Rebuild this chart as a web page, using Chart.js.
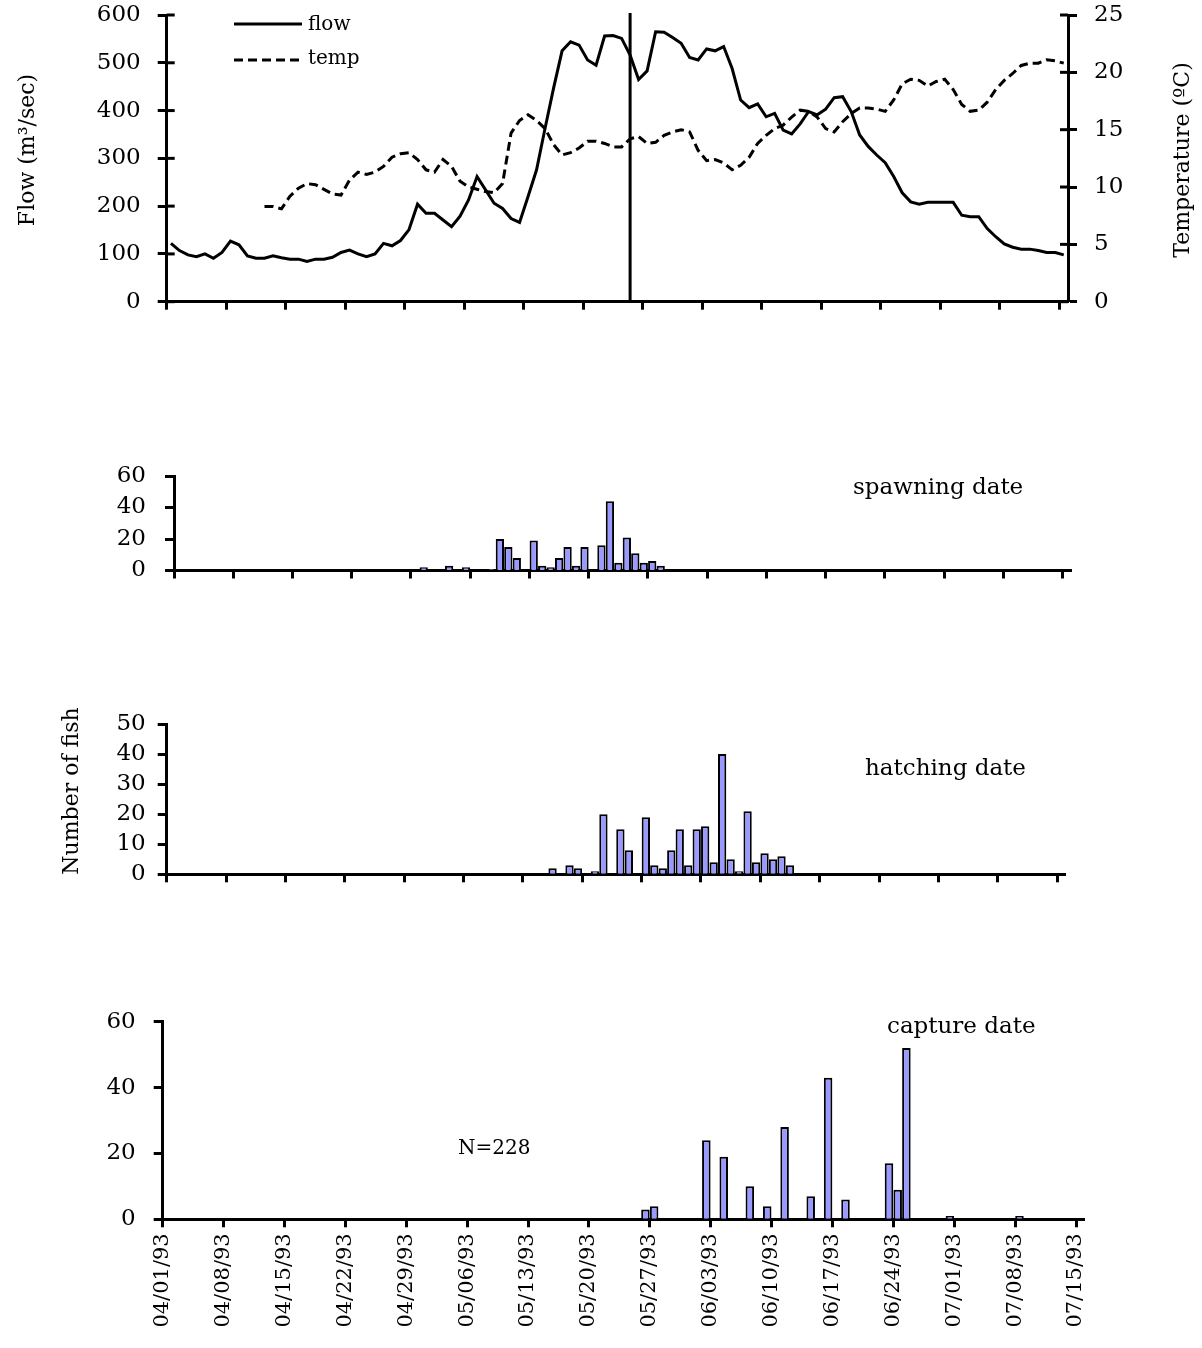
<!DOCTYPE html>
<html>
<head>
<meta charset="utf-8">
<script src="https://cdn.jsdelivr.net/npm/chart.js@4/dist/chart.umd.min.js"></script>
<style>
  body { margin: 0; background: #fff; }
  #wrap { position: relative; width: 1202px; height: 1348px; background: #fff; }
  canvas { position: absolute; left: 0; }
</style>
</head>
<body>
<div id="wrap">
  <canvas id="flowChart" width="1202" height="330" style="top:0px"></canvas>
  <canvas id="spawnChart" width="1202" height="150" style="top:440px"></canvas>
  <canvas id="hatchChart" width="1202" height="200" style="top:690px"></canvas>
  <canvas id="captureChart" width="1202" height="358" style="top:990px"></canvas>
</div>
<script>
// days 04/01/93 .. 07/15/93
const nDays = 106
const weekLabels = ['04/01/93', '04/08/93', '04/15/93', '04/22/93', '04/29/93', '05/06/93', '05/13/93', '05/20/93',
  '05/27/93', '06/03/93', '06/10/93', '06/17/93', '06/24/93', '07/01/93', '07/08/93', '07/15/93']

// daily flow (m3/sec), starting 04/01/93
const flow = [
  122, 107, 98, 94, 100, 91, 103, 127, 119, 96,
  91, 91, 96, 92, 89, 89, 84, 89, 89, 93,
  103, 108, 100, 94, 100, 122, 117, 128, 151, 204,
  185, 185, 171, 157, 179, 213, 262, 234, 206, 195,
  174, 166, 220, 276, 363, 447, 525, 544, 537, 506,
  495, 556, 557, 551, 516, 465, 483, 565, 564, 553,
  541, 511, 506, 529, 525, 534, 488, 422, 406, 414,
  387, 394, 359, 351, 372, 398, 391, 403, 427, 429,
  398, 349, 325, 307, 291, 262, 228, 209, 204, 208,
  208, 208, 208, 181, 178, 178, 153, 136, 121, 114,
  110, 110, 107, 103, 103, 98
]

// daily temperature (C), record starts on day 11 (04/12/93)
const tempStartDay = 11
const temp = [
  8.3, 8.3, 8.1, 9.2, 9.9, 10.3, 10.2, 9.8, 9.4, 9.3,
  10.6, 11.3, 11.1, 11.3, 11.8, 12.6, 12.9, 13.0, 12.4, 11.5,
  11.3, 12.4, 11.8, 10.5, 10.0, 9.8, 9.6, 9.5, 10.3, 14.7,
  15.8, 16.3, 15.8, 15.1, 13.7, 12.8, 13.0, 13.4, 14.0, 14.0,
  13.8, 13.5, 13.5, 14.2, 14.4, 13.8, 13.9, 14.5, 14.8, 15.0,
  14.8, 13.2, 12.3, 12.4, 12.1, 11.5, 11.9, 12.6, 13.8, 14.5,
  15.1, 15.4, 16.1, 16.7, 16.6, 16.1, 15.1, 14.8, 15.7, 16.4,
  16.9, 16.9, 16.8, 16.6, 17.6, 19.0, 19.4, 19.3, 18.8, 19.2,
  19.4, 18.5, 17.2, 16.6, 16.7, 17.4, 18.5, 19.3, 19.9, 20.6,
  20.8, 20.8, 21.1, 21.0, 20.8
]

const markerDay = 54 // 05/25/93

// fish counts, day index = days since 04/01/93
const spawnDays = [29, 32, 34, 37, 38, 39, 40, 42, 43, 44, 45, 46, 47, 48, 50, 51, 52, 53, 54, 55, 56, 57]
const spawnCounts = [2, 3, 2, 1, 20, 15, 8, 19, 3, 2, 8, 15, 3, 15, 16, 44, 5, 21, 11, 5, 6, 3]

const hatchDays = [45, 47, 48, 50, 51, 53, 54, 56, 57, 58, 59, 60, 61, 62, 63, 64, 65, 66, 67, 68, 69, 70, 71, 72, 73]
const hatchCounts = [2, 3, 2, 1, 20, 15, 8, 19, 3, 2, 8, 15, 3, 15, 16, 4, 40, 5, 1, 21, 4, 7, 5, 6, 3]

const captureDays = [55, 56, 62, 64, 67, 69, 71, 74, 76, 78, 83, 84, 85, 90, 98]
const captureCounts = [3, 4, 24, 19, 10, 4, 28, 7, 43, 6, 17, 9, 52, 1, 1]

const FONT = 'DejaVu Serif'
const BAR_FILL = '#9999ff'

const days = []
for (let i = 0; i < nDays; i++) {
  const d = new Date(1993, 3, 1 + i)
  days.push(String(d.getMonth() + 1).padStart(2, '0') + '/' + String(d.getDate()).padStart(2, '0') + '/93')
}

const toDaily = (idx, counts) => {
  const out = new Array(nDays).fill(null)
  idx.forEach((d, i) => { out[d] = counts[i] })
  return out
}

const tempDaily = new Array(tempStartDay).fill(null).concat(temp)

// no extra room for half labels, plot area is set by padding + fixed axis sizes
const noPad = (s) => { s.paddingTop = 0; s.paddingBottom = 0; s.paddingLeft = 0; s.paddingRight = 0 }

const xAxis = (height, showLabels) => ({
  type: 'category',
  offset: true,
  grid: {
    offset: true,
    drawOnChartArea: false,
    tickLength: 8,
    tickWidth: 3,
    tickColor: (c) => (c.index % 7 === 0 ? '#000' : 'rgba(0,0,0,0)')
  },
  border: { color: '#000', width: 3 },
  ticks: {
    display: showLabels,
    autoSkip: false,
    minRotation: 90,
    maxRotation: 90,
    padding: 6,
    labelOffset: -4.35,
    color: '#000',
    font: { family: FONT, size: 21 },
    callback: (v, i) => (i % 7 === 0 ? weekLabels[i / 7] : '')
  },
  afterFit: (s) => { s.height = height; noPad(s) }
})

const yAxis = (pos, max, step, width, pad) => ({
  position: pos,
  min: 0,
  max: max,
  grid: { drawOnChartArea: false, tickLength: 9, tickWidth: 3, tickColor: '#000' },
  border: { color: '#000', width: 3 },
  ticks: { stepSize: step, autoSkip: false, padding: pad, color: '#000', font: { family: FONT, size: 23 } },
  afterFit: (s) => { s.width = width; noPad(s) }
})

// free text: titles, panel names
const textPlugin = (items) => ({
  id: 'texts',
  afterDraw(chart) {
    const ctx = chart.ctx
    items.forEach(t => {
      ctx.save()
      ctx.fillStyle = '#000'
      ctx.font = t.size + 'px "' + FONT + '"'
      ctx.textAlign = t.align || 'left'
      ctx.textBaseline = 'middle'
      ctx.translate(t.x, t.y)
      if (t.rot) ctx.rotate(t.rot)
      ctx.fillText(t.text, 0, 0)
      ctx.restore()
    })
  }
})

const flowExtras = {
  id: 'flowExtras',
  afterDatasetsDraw(chart) {
    const ctx = chart.ctx
    const area = chart.chartArea
    const x = chart.scales.x.getPixelForValue(markerDay)
    ctx.save()
    ctx.strokeStyle = '#000'
    ctx.lineWidth = 3
    ctx.beginPath()
    ctx.moveTo(x, area.top - 2)
    ctx.lineTo(x, area.bottom)
    ctx.stroke()

    // inner halves of the crossing y ticks
    const yl = chart.scales.y
    const yr = chart.scales.y1
    yl.ticks.forEach(t => {
      const p = yl.getPixelForValue(t.value)
      ctx.beginPath(); ctx.moveTo(area.left, p); ctx.lineTo(area.left + 8, p); ctx.stroke()
    })
    yr.ticks.forEach(t => {
      const p = yr.getPixelForValue(t.value)
      ctx.beginPath(); ctx.moveTo(area.right, p); ctx.lineTo(area.right - 8, p); ctx.stroke()
    })

    // legend
    ctx.lineWidth = 3
    ctx.beginPath(); ctx.moveTo(234, 24); ctx.lineTo(302, 24); ctx.stroke()
    ctx.setLineDash([9, 5])
    ctx.beginPath(); ctx.moveTo(234, 60); ctx.lineTo(302, 60); ctx.stroke()
    ctx.setLineDash([])
    ctx.fillStyle = '#000'
    ctx.font = '20px "' + FONT + '"'
    ctx.textBaseline = 'middle'
    ctx.fillText('flow', 308, 25)
    ctx.fillText('temp', 308, 59)
    ctx.restore()
  }
}

new Chart(document.getElementById('flowChart'), {
  type: 'line',
  data: {
    labels: days,
    datasets: [
      { label: 'flow', data: flow, yAxisID: 'y', borderColor: '#000', borderWidth: 3, pointRadius: 0, tension: 0, fill: false },
      { label: 'temp', data: tempDaily, yAxisID: 'y1', borderColor: '#000', borderWidth: 3, borderDash: [9, 5], pointRadius: 0, tension: 0, fill: false }
    ]
  },
  options: {
    responsive: false,
    animation: false,
    layout: { padding: { top: 15, left: 0, right: 0, bottom: 0 } },
    plugins: { legend: { display: false }, tooltip: { enabled: false } },
    scales: {
      x: xAxis(28.3, false),
      y: yAxis('left', 600, 100, 166.7, 17),
      y1: yAxis('right', 25, 5, 134, 17)
    }
  },
  plugins: [flowExtras, textPlugin([
    { text: 'Flow (m\u00b3/sec)', x: 28, y: 150, rot: -Math.PI / 2, align: 'center', size: 22 },
    { text: 'Temperature (\u00baC)', x: 1183, y: 160, rot: -Math.PI / 2, align: 'center', size: 22 }
  ])]
})

const barChart = (id, counts, yMax, yStep, geo, texts) => new Chart(document.getElementById(id), {
  type: 'bar',
  data: {
    labels: days,
    datasets: [{
      data: counts,
      backgroundColor: BAR_FILL,
      borderColor: '#000',
      borderWidth: 2,
      barPercentage: 0.98,
      categoryPercentage: 1
    }]
  },
  options: {
    responsive: false,
    animation: false,
    layout: { padding: { top: geo.top, left: 0, right: geo.right, bottom: 0 } },
    plugins: { legend: { display: false }, tooltip: { enabled: false } },
    scales: {
      x: xAxis(geo.xh, geo.labels),
      y: yAxis('left', yMax, yStep, geo.left, geo.pad)
    }
  },
  plugins: [textPlugin(texts)]
})

barChart('spawnChart', toDaily(spawnDays, spawnCounts), 60, 20,
  { top: 36, right: 130.8, xh: 19.5, left: 174, pad: 19, labels: false },
  [{ text: 'spawning date', x: 853, y: 48, size: 23 }])

barChart('hatchChart', toDaily(hatchDays, hatchCounts), 50, 10,
  { top: 34, right: 136.4, xh: 15.7, left: 166.7, pad: 12, labels: false },
  [{ text: 'hatching date', x: 865, y: 79, size: 23 },
   { text: 'Number of fish', x: 72, y: 101, rot: -Math.PI / 2, align: 'center', size: 22 }])

barChart('captureChart', toDaily(captureDays, captureCounts), 60, 20,
  { top: 31.7, right: 117.3, xh: 128.7, left: 162.7, pad: 18, labels: true },
  [{ text: 'capture date', x: 887, y: 37, size: 23 },
   { text: 'N=228', x: 458, y: 159, size: 20 }])
</script>
</body>
</html>
